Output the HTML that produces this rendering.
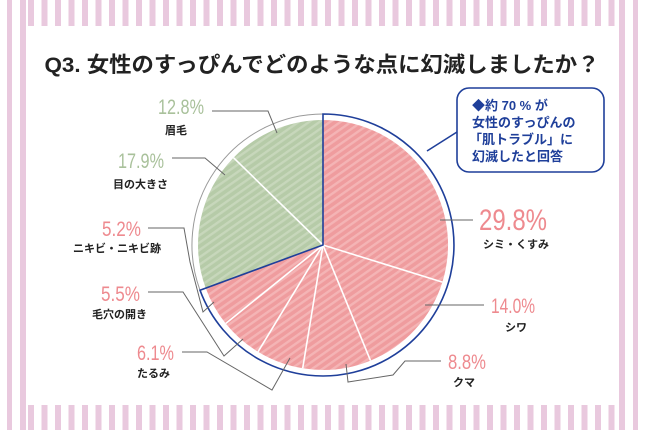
<!DOCTYPE html>
<html><head><meta charset="utf-8"><style>
html,body{margin:0;padding:0;background:#fff}
svg{display:block}
text{font-family:"Liberation Sans","Noto Sans CJK JP",sans-serif}
</style></head><body>
<svg width="645" height="430" viewBox="0 0 645 430" xmlns="http://www.w3.org/2000/svg">
<defs>
<pattern id="vs" width="13.5" height="10" patternUnits="userSpaceOnUse" x="28">
<rect x="0" y="0" width="6" height="10" fill="#e9c9de"/></pattern>
<pattern id="pk" width="6" height="6" patternUnits="userSpaceOnUse" patternTransform="rotate(-35)">
<rect width="6" height="6" fill="#ef9c9e"/><rect width="6" height="2.4" fill="#f4b4b5"/></pattern>
<pattern id="gr" width="6" height="6" patternUnits="userSpaceOnUse" patternTransform="rotate(-35)">
<rect width="6" height="6" fill="#b6cba8"/><rect width="6" height="2.4" fill="#c7d7bb"/></pattern>
</defs>
<rect x="0" y="0" width="645" height="430" fill="#fff"/>
<rect x="28" y="0" width="590" height="26" fill="url(#vs)"/>
<rect x="28" y="405" width="590" height="25" fill="url(#vs)"/>
<rect x="7" y="0" width="5" height="430" fill="#e9c9de"/>
<rect x="20" y="0" width="6" height="430" fill="#e9c9de"/>
<rect x="619" y="0" width="6" height="430" fill="#e9c9de"/>
<rect x="633" y="0" width="5" height="430" fill="#e9c9de"/>

<text x="322" y="72" font-size="21.5" font-weight="bold" fill="#222" text-anchor="middle" textLength="555" lengthAdjust="spacingAndGlyphs">Q3. 女性のすっぴんでどのような点に幻滅しましたか？</text>

<path d="M323,245 L323,120 A125,125 0 0,1 442.4,282.1 Z" fill="url(#pk)"/>
<path d="M323,245 L442.4,282.1 A125,125 0 0,1 370.5,360.6 Z" fill="url(#pk)"/>
<path d="M323,245 L370.5,360.6 A125,125 0 0,1 302.7,368.3 Z" fill="url(#pk)"/>
<path d="M323,245 L302.7,368.3 A125,125 0 0,1 258,351.8 Z" fill="url(#pk)"/>
<path d="M323,245 L258,351.8 A125,125 0 0,1 225.7,323.5 Z" fill="url(#pk)"/>
<path d="M323,245 L225.7,323.5 A125,125 0 0,1 205.7,288.1 Z" fill="url(#pk)"/>
<path d="M323,245 L205.7,288.1 A125,125 0 0,1 233.5,157.7 Z" fill="url(#gr)"/>
<path d="M323,245 L233.5,157.7 A125,125 0 0,1 323,120 Z" fill="url(#gr)"/>
<g stroke="#fff" stroke-width="1.6">
<line x1="323" y1="245" x2="442.4" y2="282.1"/><line x1="323" y1="245" x2="370.5" y2="360.6"/>
<line x1="323" y1="245" x2="302.7" y2="368.3"/><line x1="323" y1="245" x2="258" y2="351.8"/>
<line x1="323" y1="245" x2="225.7" y2="323.5"/><line x1="323" y1="245" x2="233.5" y2="157.7"/>
</g>
<path d="M200,290.2 A131,131 0 0,1 323,114" fill="none" stroke="#999" stroke-width="1"/>
<path d="M323,245 L323,114 A131,131 0 1,1 200,290.2 Z" fill="none" stroke="#1f3f9a" stroke-width="1.6"/>

<rect x="457" y="88" width="147" height="84" rx="12" fill="#fff" stroke="#1f3f9a" stroke-width="1.6"/>
<line x1="457" y1="132" x2="427" y2="151" stroke="#1f3f9a" stroke-width="1.6"/>
<g font-size="13" font-weight="bold" fill="#1f3f9a">
<text x="472" y="110">◆約 70 % が</text>
<text x="472" y="127">女性のすっぴんの</text>
<text x="469" y="144">「肌トラブル」に</text>
<text x="472" y="161">幻滅したと回答</text>
</g>

<g fill="none" stroke="#666" stroke-width="1">
<polyline points="212,111 268,111 277,133"/>
<polyline points="172,158 205,158 225,175"/>
<polyline points="148,228 184,228 190,262 203,312 214,302"/>
<polyline points="148,292 183,292 224,356 243,339"/>
<polyline points="182,352 207,352 272,390 290,358"/>
<polyline points="441,361 405,361 393,375 348,382 346,364"/>
<polyline points="484,305 425,305"/>
<polyline points="473,220 440,220"/>
</g>

<g>
<text x="158" y="114" font-size="21" fill="#a9c19b" textLength="46" lengthAdjust="spacingAndGlyphs">12.8%</text>
<text x="118" y="168" font-size="21" fill="#a9c19b" textLength="46" lengthAdjust="spacingAndGlyphs">17.9%</text>
<text x="102" y="236" font-size="21" fill="#ee8a8f" textLength="39" lengthAdjust="spacingAndGlyphs">5.2%</text>
<text x="101" y="301" font-size="21" fill="#ee8a8f" textLength="39" lengthAdjust="spacingAndGlyphs">5.5%</text>
<text x="137" y="360" font-size="21" fill="#ee8a8f" textLength="37" lengthAdjust="spacingAndGlyphs">6.1%</text>
<text x="479" y="230" font-size="30" fill="#ee8a8f" textLength="68" lengthAdjust="spacingAndGlyphs">29.8%</text>
<text x="491" y="313" font-size="21" fill="#ee8a8f" textLength="44" lengthAdjust="spacingAndGlyphs">14.0%</text>
<text x="448" y="369" font-size="21" fill="#ee8a8f" textLength="38" lengthAdjust="spacingAndGlyphs">8.8%</text>
</g>
<g font-weight="bold" font-size="11" fill="#222">
<text x="165" y="134">眉毛</text>
<text x="113" y="188">目の大きさ</text>
<text x="73" y="252">ニキビ・ニキビ跡</text>
<text x="92" y="318">毛穴の開き</text>
<text x="137" y="377">たるみ</text>
<text x="483" y="248">シミ・くすみ</text>
<text x="505" y="331">シワ</text>
<text x="453" y="386">クマ</text>
</g>
</svg>
</body></html>
